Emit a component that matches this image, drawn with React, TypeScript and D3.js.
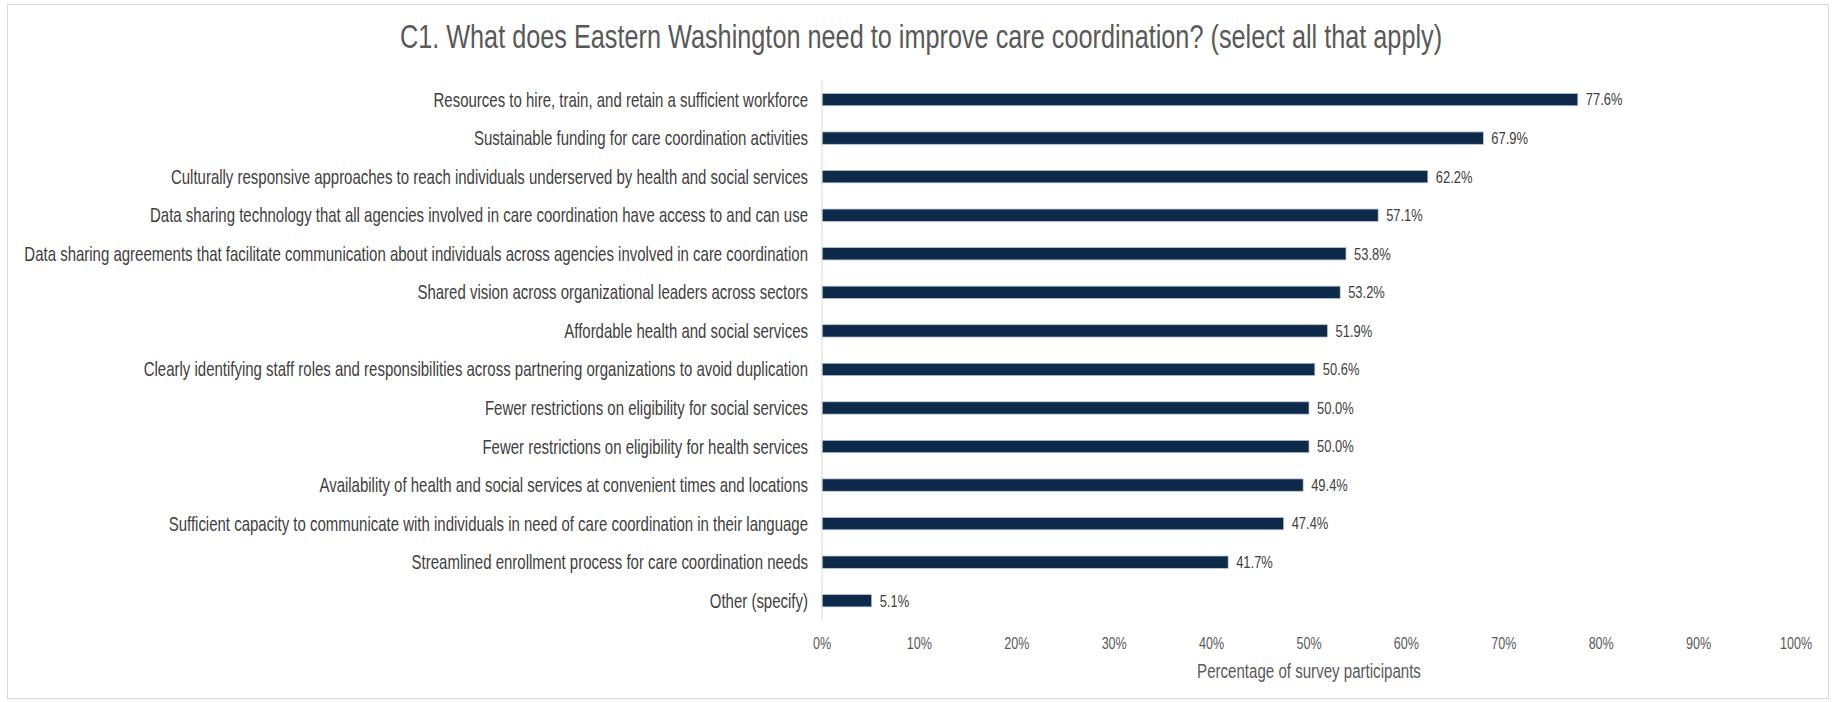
import React from "react";
import * as d3 from "d3";

const categories: string[] = [
  "Resources to hire, train, and retain a sufficient workforce",
  "Sustainable funding for care coordination activities",
  "Culturally responsive approaches to reach individuals underserved by health and social services",
  "Data sharing technology that all agencies involved in care coordination have access to and can use",
  "Data sharing agreements that facilitate communication about individuals across agencies involved in care coordination",
  "Shared vision across organizational leaders across sectors",
  "Affordable health and social services",
  "Clearly identifying staff roles and responsibilities across partnering organizations to avoid duplication",
  "Fewer restrictions on eligibility for social services",
  "Fewer restrictions on eligibility for health services",
  "Availability of health and social services at convenient times and locations",
  "Sufficient capacity to communicate with individuals in need of care coordination in their language",
  "Streamlined enrollment process for care coordination needs",
  "Other (specify)",
];

const values: number[] = [77.6, 67.9, 62.2, 57.1, 53.8, 53.2, 51.9, 50.6, 50.0, 50.0, 49.4, 47.4, 41.7, 5.1];

const tickValues: number[] = [0, 10, 20, 30, 40, 50, 60, 70, 80, 90, 100];

const title = "C1. What does Eastern Washington need to improve care coordination? (select all that apply)";
const xAxisTitle = "Percentage of survey participants";

const W = 1836;
const H = 702;
const FONT = "'Liberation Sans', Arial, sans-serif";

function NText(props: {
  x: number;
  y: number;
  anchor: "start" | "middle" | "end";
  size: number;
  sx: number;
  fill: string;
  children: React.ReactNode;
}) {
  return (
    <g transform={`translate(${props.x},${props.y}) scale(${props.sx},1)`}>
      <text x={0} y={0} dy="0.35em" textAnchor={props.anchor} fontSize={props.size} fill={props.fill}>
        {props.children}
      </text>
    </g>
  );
}

export default function App() {
  const x = d3.scaleLinear().domain([0, 100]).range([822, 1796]);
  const y = d3
    .scaleBand<string>()
    .domain(categories)
    .range([80.3, 620])
    .paddingInner(0.68)
    .paddingOuter(0.34);

  return (
    <div style={{ position: "absolute", left: 0, top: 0 }}>
      <svg width={W} height={H} style={{ display: "block", fontFamily: FONT }}>
        <rect x={0} y={0} width={W} height={H} fill="#ffffff" />
        <rect x={7.5} y={4.5} width={1821} height={694} fill="#ffffff" stroke="#d9d9d9" strokeWidth={1} />
        <NText x={921} y={37} anchor="middle" size={32.6} sx={0.775} fill="#595959">
          {title}
        </NText>
        {categories.map((c, i) => {
          const yc = (y(c) as number) + y.bandwidth() / 2;
          return (
            <g key={c}>
              <rect
                x={x(0)}
                y={y(c)}
                width={x(values[i]) - x(0)}
                height={y.bandwidth()}
                fill="#0d2a4a"
                stroke="#b8c4d2"
                strokeWidth={0.75}
              />
              <NText x={808} y={yc} anchor="end" size={20} sx={0.75} fill="#404040">
                {c}
              </NText>
              <NText x={x(values[i]) + 8} y={yc} anchor="start" size={16.7} sx={0.775} fill="#404040">
                {values[i].toFixed(1) + "%"}
              </NText>
            </g>
          );
        })}
        <line x1={x(0)} x2={x(0)} y1={80} y2={620} stroke="#d9d9d9" strokeWidth={1} />
        {tickValues.map((t) => (
          <NText key={t} x={x(t)} y={643} anchor="middle" size={16.3} sx={0.77} fill="#595959">
            {t + "%"}
          </NText>
        ))}
        <NText x={(x(0) + x(100)) / 2} y={671} anchor="middle" size={19.8} sx={0.762} fill="#595959">
          {xAxisTitle}
        </NText>
      </svg>
    </div>
  );
}
